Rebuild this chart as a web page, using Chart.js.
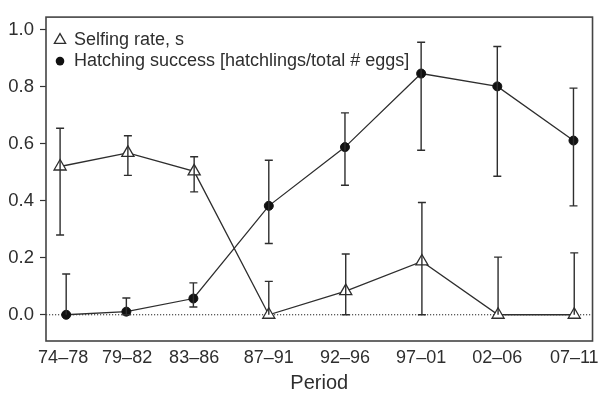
<!DOCTYPE html>
<html>
<head>
<meta charset="utf-8">
<script src="https://cdn.jsdelivr.net/npm/chart.js@4.4.1/dist/chart.umd.min.js"></script>
<style>
  html, body { margin: 0; padding: 0; background: #fff; }
  #wrap { width: 605px; height: 396px; }
</style>
</head>
<body>
<div id="wrap"><canvas id="chart"></canvas></div>
<script>
// Periods and where they sit on the x axis
const periods = ['74–78', '79–82', '83–86', '87–91', '92–96', '97–01', '02–06', '07–11'];
const periodPos = [0.30, 1.14, 2.02, 3, 4, 5, 6, 7.01];
const selfingPos = [0.26, 1.15, 2.02, 3, 4.01, 5.01, 6.01, 7.01];
const hatchingPos = [0.34, 1.13, 2.01, 3, 4, 5, 6, 7];

// Selfing rate, s (mean + interval)
const selfingRate = [0.52, 0.568, 0.503, 0, 0.083, 0.187, 0, 0];
const selfingLow = [0.28, 0.489, 0.431, 0, 0, 0, 0, 0];
const selfingHigh = [0.654, 0.628, 0.554, 0.117, 0.213, 0.394, 0.202, 0.217];

// Hatching success (mean + interval)
const hatchingSuccess = [0, 0.011, 0.057, 0.382, 0.588, 0.846, 0.801, 0.611];
const hatchingLow = [0, 0, 0.027, 0.25, 0.454, 0.577, 0.486, 0.382];
const hatchingHigh = [0.143, 0.059, 0.112, 0.542, 0.708, 0.956, 0.941, 0.795];

const yTicks = [0, 0.2, 0.4, 0.6, 0.8, 1.0];
const legendLabels = ['Selfing rate, s', 'Hatching success [hatchlings/total # eggs]'];

const ink = '#2e2e2e';
const font = '"Liberation Sans", Arial, Helvetica, sans-serif';

function toPoints(xs, ys) {
    return ys.map((v, i) => ({ x: xs[i], y: v }));
}

// Draw triangle marker by hand for the legend
function drawTriangle(ctx, cx, cy, r) {
    ctx.beginPath();
    for (let k = 0; k < 3; k++) {
        const a = k * 2 * Math.PI / 3;
        const px = cx + Math.sin(a) * r;
        const py = cy - Math.cos(a) * r;
        if (k === 0) ctx.moveTo(px, py); else ctx.lineTo(px, py);
    }
    ctx.closePath();
    ctx.fillStyle = '#fff';
    ctx.fill();
    ctx.stroke();
}

// Zero line, error bars, frame box and in-plot legend
const decorations = {
    id: 'decorations',
    beforeDatasetsDraw(chart) {
        const { ctx, chartArea: a, scales: { y } } = chart;
        const y0 = y.getPixelForValue(0);
        ctx.save();
        ctx.strokeStyle = '#222';
        ctx.lineWidth = 1;
        ctx.setLineDash([1.2, 1.8]);
        ctx.beginPath();
        ctx.moveTo(a.left, y0);
        ctx.lineTo(a.right, y0);
        ctx.stroke();
        ctx.restore();
    },
    afterDatasetsDraw(chart) {
        const { ctx, chartArea: a, scales: { x, y } } = chart;
        const series = [
            [selfingPos, selfingRate, selfingLow, selfingHigh],
            [hatchingPos, hatchingSuccess, hatchingLow, hatchingHigh]
        ];
        ctx.save();
        ctx.strokeStyle = ink;
        ctx.lineWidth = 1.4;
        series.forEach(([pos, mid, low, high]) => {
            pos.forEach((p, i) => {
                const px = x.getPixelForValue(p);
                const lo = y.getPixelForValue(low[i]);
                const hi = y.getPixelForValue(high[i]);
                ctx.beginPath();
                ctx.moveTo(px, lo);
                ctx.lineTo(px, hi);
                if (high[i] !== mid[i]) {
                    ctx.moveTo(px - 4, hi);
                    ctx.lineTo(px + 4, hi);
                }
                if (low[i] !== mid[i]) {
                    ctx.moveTo(px - 4, lo);
                    ctx.lineTo(px + 4, lo);
                }
                ctx.stroke();
            });
        });

        // frame
        ctx.strokeStyle = '#444';
        ctx.lineWidth = 1.6;
        ctx.strokeRect(a.left, a.top, a.right - a.left, a.bottom - a.top);

        // legend
        const lx = a.left + 14;
        const ly = a.top + 22;
        ctx.lineWidth = 1.3;
        ctx.strokeStyle = ink;
        drawTriangle(ctx, lx, ly + 1, 6.5);
        ctx.beginPath();
        ctx.arc(lx, ly + 22, 4.3, 0, Math.PI * 2);
        ctx.fillStyle = '#111';
        ctx.fill();
        ctx.fillStyle = ink;
        ctx.font = '18px ' + font;
        ctx.textBaseline = 'middle';
        ctx.textAlign = 'left';
        ctx.fillText(legendLabels[0], lx + 14, ly + 1);
        ctx.fillText(legendLabels[1], lx + 14, ly + 22);
        ctx.restore();
    }
};

new Chart(document.getElementById('chart'), {
    type: 'line',
    data: {
        datasets: [
            {
                label: legendLabels[0],
                data: toPoints(selfingPos, selfingRate),
                borderColor: ink,
                borderWidth: 1.3,
                pointStyle: 'triangle',
                pointRadius: 7,
                pointBackgroundColor: '#fff',
                pointBorderColor: ink,
                pointBorderWidth: 1.3,
                tension: 0,
                fill: false
            },
            {
                label: legendLabels[1],
                data: toPoints(hatchingPos, hatchingSuccess),
                borderColor: ink,
                borderWidth: 1.3,
                pointStyle: 'circle',
                pointRadius: 4.5,
                pointBackgroundColor: '#111',
                pointBorderColor: '#111',
                pointBorderWidth: 1,
                tension: 0,
                fill: false
            }
        ]
    },
    options: {
        responsive: true,
        maintainAspectRatio: false,
        animation: false,
        devicePixelRatio: 1,
        layout: { padding: { top: 8, right: 12, left: 0, bottom: 0 } },
        plugins: {
            legend: { display: false },
            tooltip: { enabled: false }
        },
        scales: {
            x: {
                type: 'linear',
                min: 0.075,
                max: 7.25,
                grid: { display: false, drawTicks: false },
                border: { display: false },
                afterBuildTicks: scale => {
                    scale.ticks = periodPos.map(v => ({ value: v }));
                },
                afterFit: scale => { scale.height = 55; },
                ticks: {
                    autoSkip: false,
                    maxRotation: 0,
                    padding: 6,
                    color: ink,
                    font: { family: font, size: 18 },
                    callback: (value, index) => periods[index]
                },
                title: {
                    display: true,
                    text: 'Period',
                    color: ink,
                    font: { family: font, size: 20, lineHeight: 1.2 },
                    padding: { top: 0, bottom: 1 }
                }
            },
            y: {
                min: -0.092,
                max: 1.044,
                grid: {
                    drawOnChartArea: false,
                    drawTicks: true,
                    tickLength: 6,
                    tickWidth: 1.2,
                    color: '#333'
                },
                border: { display: false },
                afterBuildTicks: scale => {
                    scale.ticks = yTicks.map(v => ({ value: v }));
                },
                afterFit: scale => { scale.width = 46; },
                ticks: {
                    padding: 6,
                    color: ink,
                    font: { family: font, size: 18.5 },
                    callback: value => value.toFixed(1)
                }
            }
        }
    },
    plugins: [decorations]
});
</script>
</body>
</html>
